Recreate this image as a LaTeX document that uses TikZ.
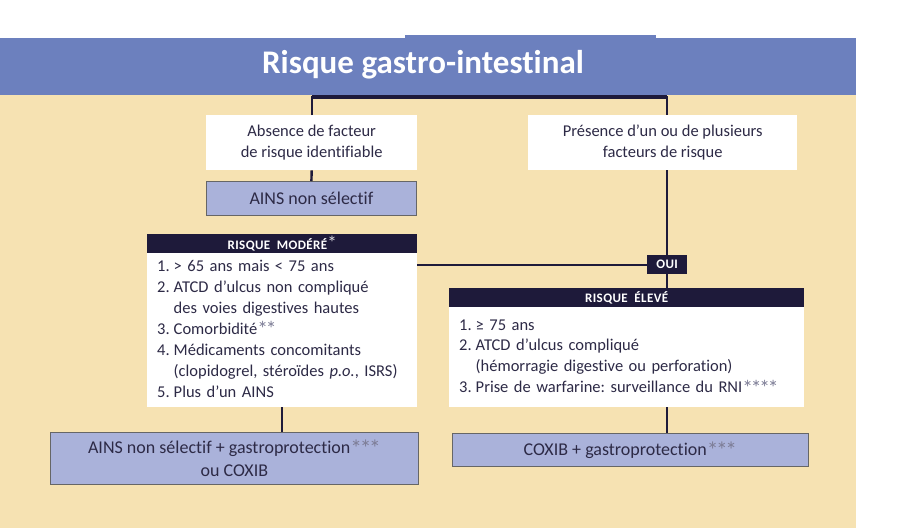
\documentclass[tikz,border=0pt]{standalone}
\usepackage{fontspec}
\setmainfont{Carlito}[Ligatures={TeX,NoCommon}]
\usetikzlibrary{positioning}
\usepackage{xcolor}
\frenchspacing
\definecolor{bandblue}{RGB}{108,128,190}
\definecolor{sandbeige}{RGB}{246,226,178}
\definecolor{lavender}{RGB}{170,178,218}
\definecolor{navyink}{RGB}{30,26,58}
\definecolor{slatetext}{RGB}{45,42,70}
\definecolor{stargray}{RGB}{125,125,150}
\newcommand{\greystars}[1]{\textcolor{stargray}{\raisebox{-0.15em}{\scalebox{1.3}{\addfontfeature{LetterSpace=-10}#1}}}}
\newcommand{\headstar}{\textcolor{white!70!stargray}{\normalfont\fontsize{19}{19}\selectfont *}}

\tikzset{
  whitebox/.style={fill=white,text=slatetext,anchor=north west,align=center,
    inner sep=0pt,font=\fontsize{16.5}{20.9}\selectfont},
  treatbox/.style={whitebox,fill=lavender,draw=black!60,line width=0.8pt,
    font=\fontsize{18}{23}\selectfont},
  listbox/.style={whitebox,align=left,inner xsep=10pt},
  headbar/.style={fill=navyink,text=white,anchor=north west,inner sep=0pt,
    font=\fontsize{13}{13}\selectfont\bfseries\addfontfeature{LetterSpace=3}},
  link/.style={draw=navyink,line width=2.4pt},
}

\begin{document}
\begin{tikzpicture}[x=1pt,y=-1pt]
  \useasboundingbox (0,0) rectangle (901,528);
  \fill[sandbeige] (0,95) rectangle (856,528);
  \fill[bandblue] (0,38) rectangle (856,95);
  \fill[bandblue] (405,35) rectangle (656,38);
  \node[text=white,font=\fontsize{33}{35}\selectfont\bfseries]
    (title) at (423,65) {Risque gastro-intestinal};

  \node[whitebox,minimum width=211,minimum height=55]
    (absent) at (206,115) {Absence de facteur\\de risque identifiable};
  \node[whitebox,minimum width=269,minimum height=55]
    (present) at (528,115) {Présence d'un ou de plusieurs\\facteurs de risque};
  \node[treatbox,minimum width=210,minimum height=34]
    (ainsns) at (206,181) {AINS non sélectif};

  \node[headbar,minimum width=270,minimum height=19]
    (modhead) at (147,234) {RISQUE\ \ MODÉRÉ\headstar};
  \node[listbox,text width=250,minimum height=154]
    (modbody) at (147,253) {%
    \begin{tabular}{@{}l@{\hspace{4pt}}l@{}}
      1. & > 65 ans mais < 75 ans\\
      2. & ATCD d'ulcus non compliqué\\
         & des voies digestives hautes\\
      3. & Comorbidité\greystars{**}\\
      4. & Médicaments concomitants\\
         & (clopidogrel, stéroïdes \textit{p.o.}, ISRS)\\
      5. & Plus d'un AINS
    \end{tabular}};

  \node[headbar,minimum width=40,minimum height=19]
    (oui) at (647,255) {OUI};
  \node[headbar,minimum width=355,minimum height=19]
    (elevhead) at (449,288) {RISQUE\ \ ÉLEVÉ};
  \node[listbox,text width=335,minimum height=100]
    (elevbody) at (449,307) {%
    \begin{tabular}{@{}l@{\hspace{4pt}}l@{}}
      1. & ≥ 75 ans\\
      2. & ATCD d'ulcus compliqué\\
         & (hémorragie digestive ou perforation)\\
      3. & Prise de warfarine: surveillance du RNI\greystars{****}
    \end{tabular}};

  \node[treatbox,minimum width=368,minimum height=52]
    (ainsgp) at (50,432) {AINS non sélectif + gastroprotection\greystars{***}\\ou COXIB};
  \node[treatbox,minimum width=356,minimum height=33]
    (coxib) at (452,433) {COXIB + gastroprotection\greystars{***}};

  \coordinate (fork) at (489,97);
  \draw[link] (absent.north) |- (fork) -| (oui.north |- present.north);
  \draw[link,line width=4pt] (absent.north |- fork) -- (oui.north |- fork);
  \draw[link] (oui.north |- present.south) -- (oui.north);
  \draw[link] (absent.south) -- (ainsns.north);
  \draw[link] (oui.west) -- (oui.west -| modbody.east);
  \draw[link] (oui.south) -- (oui.south |- elevhead.north);
  \draw[link] (modbody.south) -- (modbody.south |- ainsgp.north);
  \draw[link] (oui.south |- elevbody.south) -- (oui.south |- coxib.north);
\end{tikzpicture}
\end{document}
